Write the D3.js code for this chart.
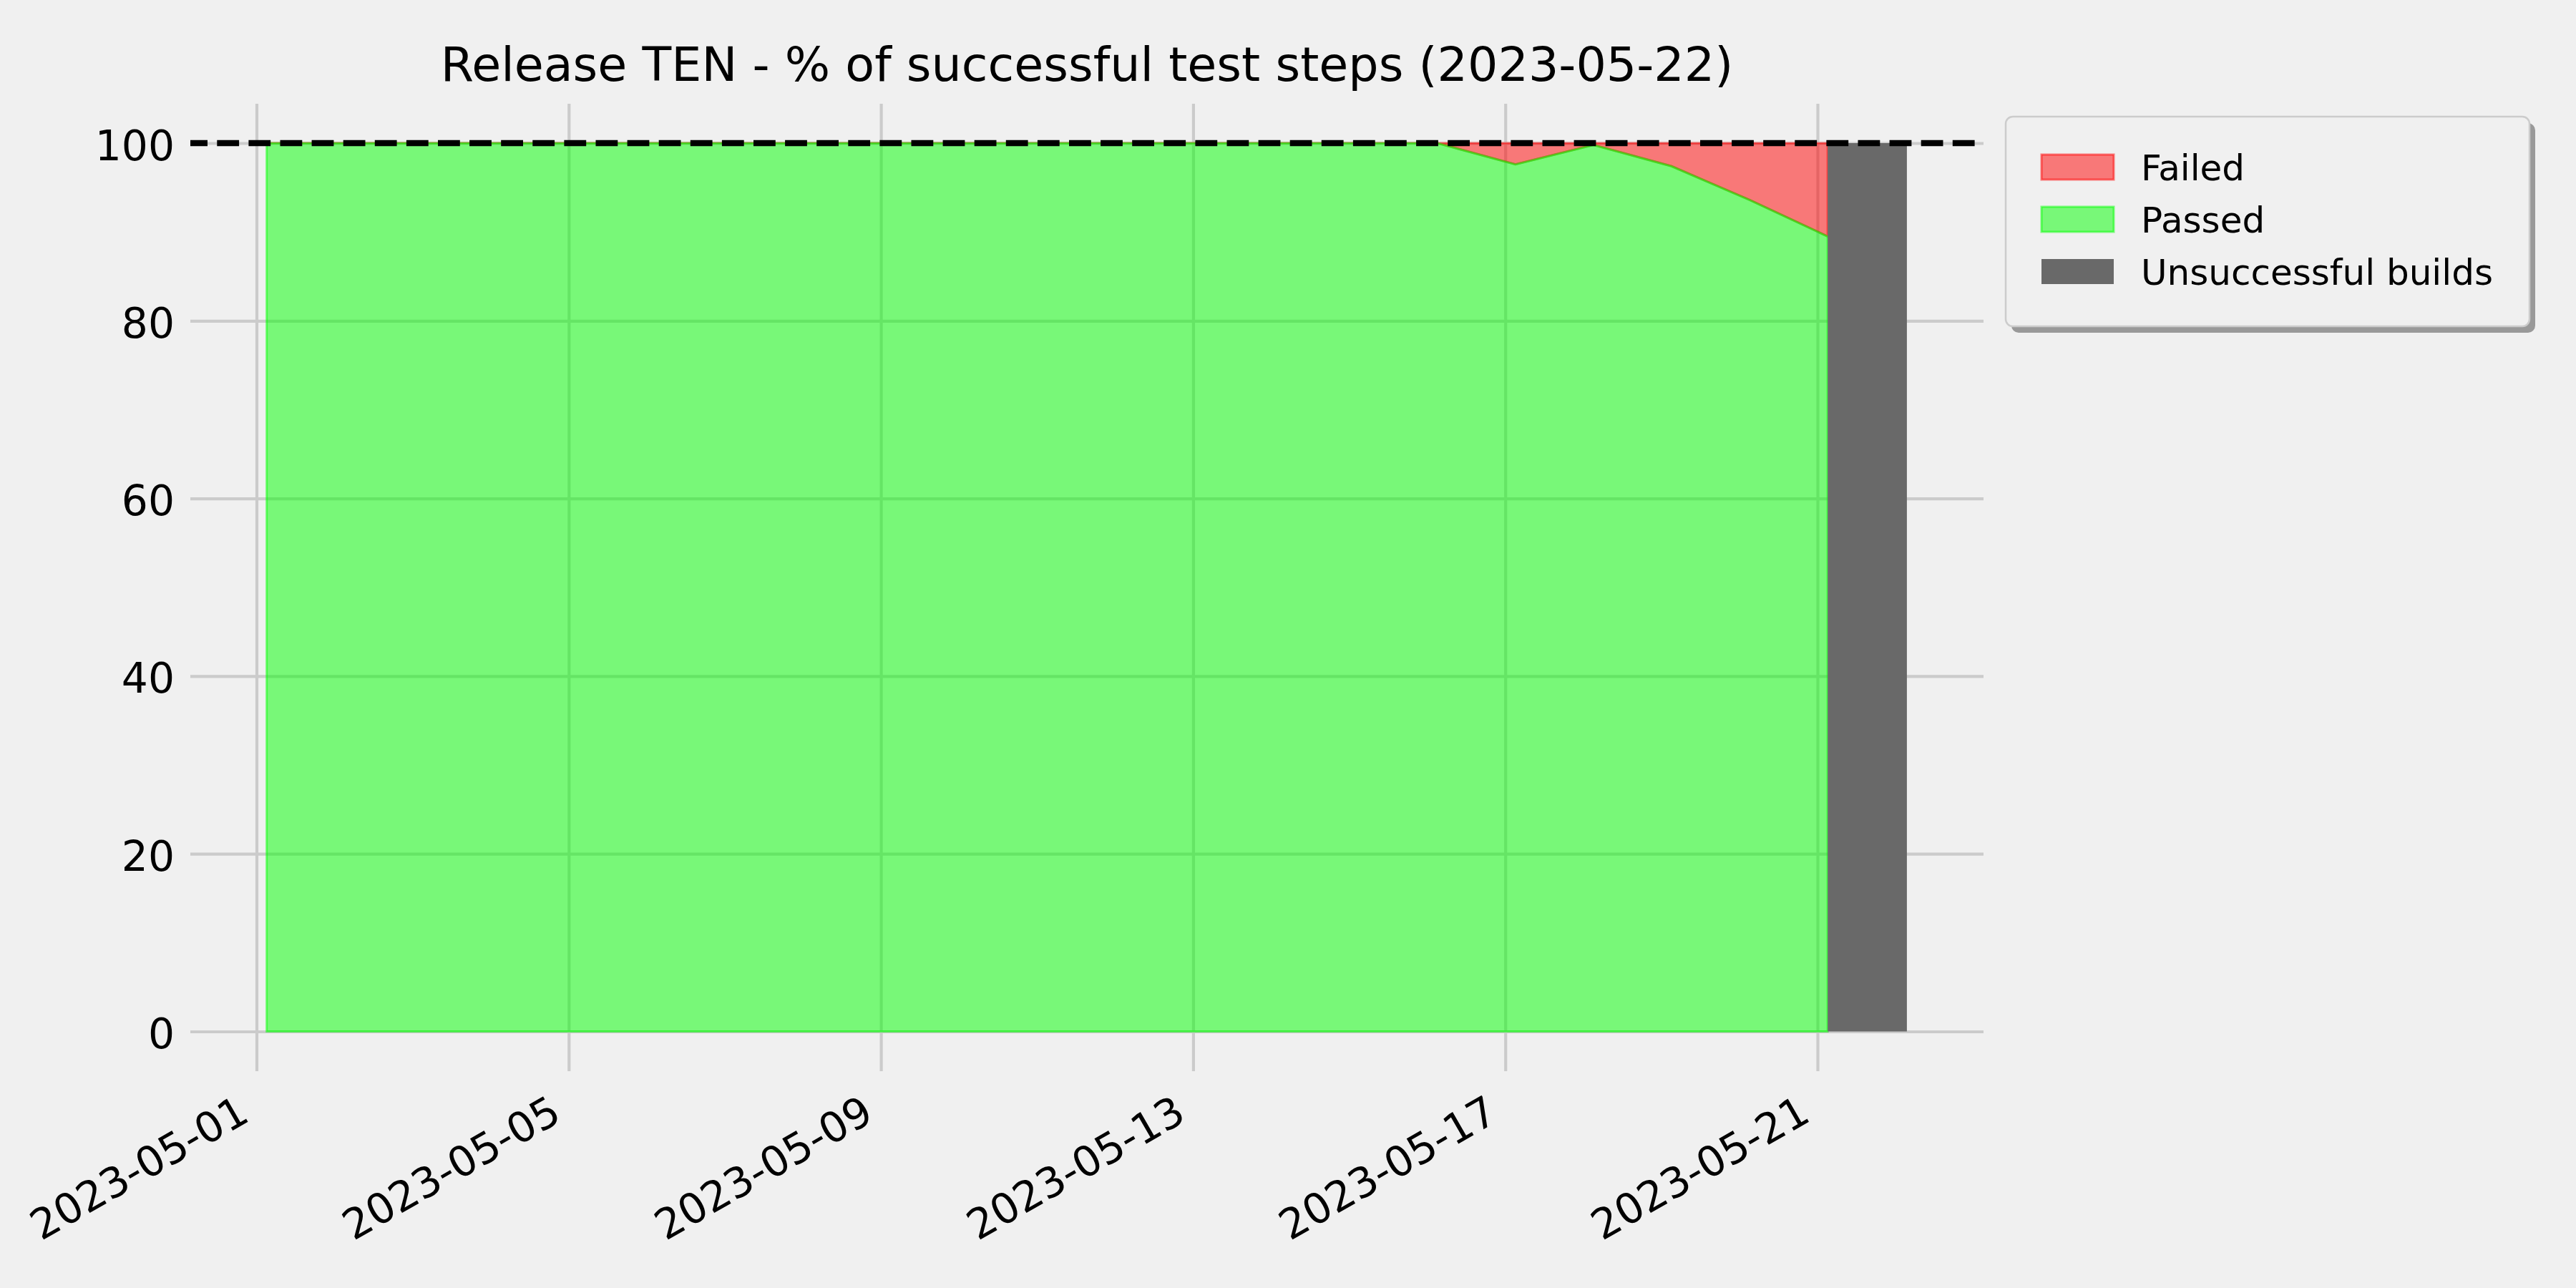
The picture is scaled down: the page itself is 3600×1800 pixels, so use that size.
<!DOCTYPE html>
<html>
<head>
<meta charset="utf-8">
<script src="https://cdn.jsdelivr.net/npm/d3@7"></script>
<style>
  html, body { margin: 0; padding: 0; background: #f0f0f0; }
  svg { display: block; }
  text { font-family: "DejaVu Sans", sans-serif; fill: #000; }
</style>
</head>
<body>
<svg id="chart" width="3600" height="1800"></svg>
<script>
// ---------------- data ----------------
const title = "Release TEN - % of successful test steps (2023-05-22)";
const dates = [
  "2023-05-01T03:07", "2023-05-02T03:07", "2023-05-03T03:07", "2023-05-04T03:07",
  "2023-05-05T03:07", "2023-05-06T03:07", "2023-05-07T03:07", "2023-05-08T03:07",
  "2023-05-09T03:07", "2023-05-10T03:07", "2023-05-11T03:07", "2023-05-12T03:07",
  "2023-05-13T03:07", "2023-05-14T03:07", "2023-05-15T03:07", "2023-05-16T03:07",
  "2023-05-17T03:07", "2023-05-18T03:07", "2023-05-19T03:07", "2023-05-20T03:07",
  "2023-05-21T03:07"
];
const passed = [100, 100, 100, 100, 100, 100, 100, 100, 100, 100, 100, 100, 100, 100, 100, 100,
                97.6, 99.8, 97.4, 93.6, 89.5];
const failed = [0, 0, 0, 0, 0, 0, 0, 0, 0, 0, 0, 0, 0, 0, 0, 0,
                2.4, 0.2, 2.6, 6.4, 10.5];
const unsuccessfulStart = ["2023-05-21T03:07"];
const unsuccessfulEnd   = ["2023-05-22T03:29"];
const unsuccessfulValue = [100];
const targetLine = 100;
const xTickDates  = ["2023-05-01", "2023-05-05", "2023-05-09", "2023-05-13", "2023-05-17", "2023-05-21"];
const xTickLabels = ["2023-05-01", "2023-05-05", "2023-05-09", "2023-05-13", "2023-05-17", "2023-05-21"];
const yTicks = [0, 20, 40, 60, 80, 100];
const legendLabels = ["Failed", "Passed", "Unsuccessful builds"];

// ---------------- layout ----------------
const axLeft = 266, axRight = 2772, axTop = 145, axBottom = 1497;
const parse = s => new Date(s + (s.length === 10 ? "T00:00Z" : "Z"));

const x = d3.scaleUtc()
  .domain([parse("2023-05-01"), parse("2023-05-21")])
  .range([358.5, 2540]);
const y = d3.scaleLinear().domain([0, 100]).range([1441.5, 200]);

const svg = d3.select("#chart");
svg.append("rect").attr("width", 3600).attr("height", 1800).attr("fill", "#f0f0f0");

// ---------------- grid (axes) ----------------
const gridColor = "#cbcbcb";
const yAxis = svg.append("g")
  .attr("transform", `translate(${axLeft},0)`)
  .call(d3.axisLeft(y).tickValues(yTicks).tickSize(-(axRight - axLeft)).tickPadding(22).tickFormat(d3.format("d")));
yAxis.select(".domain").remove();
yAxis.selectAll(".tick line").attr("stroke", gridColor).attr("stroke-width", 4.2);
yAxis.selectAll(".tick text")
  .attr("dy", null).attr("y", 23)
  .style("font-family", "DejaVu Sans").style("font-size", "58.3px").attr("fill", "#000");

const xAxis = svg.append("g")
  .attr("transform", `translate(0,${axBottom})`)
  .call(d3.axisBottom(x).tickValues(xTickDates.map(parse)).tickSize(-(axBottom - axTop))
        .tickFormat((d, i) => xTickLabels[i]));
xAxis.select(".domain").remove();
xAxis.selectAll(".tick line").attr("stroke", gridColor).attr("stroke-width", 4.2);
xAxis.selectAll(".tick text")
  .attr("y", null).attr("dy", null)
  .attr("text-anchor", "end")
  .attr("transform", "translate(-8,68) rotate(-30)")
  .style("font-family", "DejaVu Sans").style("font-size", "58.3px").attr("fill", "#000");

// ---------------- stacked areas ----------------
const rows = dates.map((d, i) => ({ date: parse(d), passed: passed[i], failed: failed[i] }));

const redArea = d3.area()
  .x(d => x(d.date))
  .y0(d => y(d.passed))
  .y1(d => y(d.passed + d.failed));
const greenArea = d3.area()
  .x(d => x(d.date))
  .y0(() => y(0))
  .y1(d => y(d.passed));

svg.append("path").datum(rows).attr("d", redArea)
  .attr("fill", "rgba(255,0,0,0.5)").attr("stroke", "rgba(255,0,0,0.5)").attr("stroke-width", 3);
svg.append("path").datum(rows).attr("d", greenArea)
  .attr("fill", "rgba(0,255,0,0.5)").attr("stroke", "rgba(0,255,0,0.5)").attr("stroke-width", 3);

// ---------------- unsuccessful builds bar ----------------
svg.selectAll("rect.unsucc").data(unsuccessfulStart).enter().append("rect")
  .attr("class", "unsucc")
  .attr("x", (d) => x(parse(d)))
  .attr("width", (d, i) => x(parse(unsuccessfulEnd[i])) - x(parse(d)))
  .attr("y", (d, i) => y(unsuccessfulValue[i]))
  .attr("height", (d, i) => y(0) - y(unsuccessfulValue[i]))
  .attr("fill", "#696969");

// ---------------- target dashed line ----------------
svg.append("line")
  .attr("x1", axLeft).attr("x2", axRight)
  .attr("y1", y(targetLine)).attr("y2", y(targetLine))
  .attr("stroke", "#000").attr("stroke-width", 8.33)
  .attr("stroke-dasharray", "30.8,13.3").attr("stroke-dashoffset", 6.8);

// ---------------- title ----------------
svg.append("text")
  .attr("x", (axLeft + axRight) / 2).attr("y", 113)
  .attr("text-anchor", "middle")
  .style("font-size", "66.7px")
  .text(title);

// ---------------- legend ----------------
const lg = svg.append("g");
const lgX = 2803, lgY = 163, lgW = 732, lgH = 293;
lg.append("rect").attr("x", lgX + 8).attr("y", lgY + 9).attr("width", lgW).attr("height", lgH)
  .attr("rx", 10).attr("fill", "#999999");
lg.append("rect").attr("x", lgX).attr("y", lgY).attr("width", lgW).attr("height", lgH)
  .attr("rx", 10).attr("fill", "#f0f0f0").attr("stroke", "#cccccc").attr("stroke-width", 2.5);

const legendFill = ["rgba(255,0,0,0.5)", "rgba(0,255,0,0.5)", "#696969"];
const legendStroke = ["rgba(255,0,0,0.5)", "rgba(0,255,0,0.5)", "none"];
legendLabels.forEach((lab, i) => {
  const rowTop = 216 + i * 73;
  lg.append("rect").attr("x", 2853).attr("y", rowTop).attr("width", 101).attr("height", 35)
    .attr("fill", legendFill[i]).attr("stroke", legendStroke[i]).attr("stroke-width", 3);
  lg.append("text").attr("x", 2992).attr("y", rowTop + 36)
    .style("font-size", "50px").text(lab);
});
</script>
</body>
</html>
